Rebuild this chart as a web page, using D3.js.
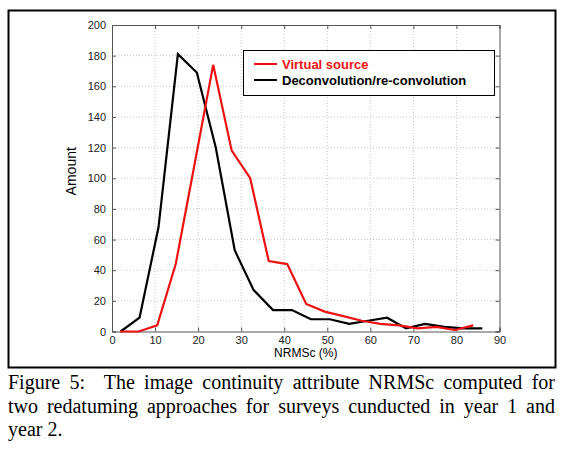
<!DOCTYPE html>
<html><head><meta charset="utf-8">
<script src="https://cdn.jsdelivr.net/npm/d3@7"></script>
<style>
html,body{margin:0;padding:0;background:#fff;}
svg{display:block;}
</style>
</head><body>
<svg id="c" width="562" height="454"></svg>
<script>
// ---- data ----
const xTicks = [0,10,20,30,40,50,60,70,80,90];
const yTicks = [0,20,40,60,80,100,120,140,160,180,200];
const seriesNames = ["Virtual source","Deconvolution/re-convolution"];
const seriesColors = ["#ee1111","#000000"];
const virtualX = [1.9,6.2,10.5,14.8,19.1,23.5,27.8,32.1,36.4,40.7,45.1,49.4,53.7,58.0,62.3,66.7,71.0,75.3,79.6,83.9];
const virtualY = [0,0,4,44,108,174,118,100,46,44,18,13,10,7,5,4,2,3,1,4];
const deconvX = [2.0,6.4,10.8,15.3,19.7,24.1,28.5,32.9,37.4,41.8,46.2,50.6,55.1,59.5,63.9,68.3,72.7,77.2,81.6,86.0];
const deconvY = [0,9,68,181,169,120,53,27,14,14,8,8,5,7,9,2,5,3,2,2];
const xLabel = "NRMSc (%)";
const yLabel = "Amount";
const captionLines = [
  "Figure 5:  The image continuity attribute NRMSc computed for",
  "two redatuming approaches for surveys cunducted in year 1 and",
  "year 2."
];

const svg = d3.select("#c");
const L = 112, R = 499.5, T = 25, B = 331.5;
const x = d3.scaleLinear().domain([0,90]).range([L,R]);
const y = d3.scaleLinear().domain([0,200]).range([B,T]);

// figure frame
svg.append("rect").attr("x",8.5).attr("y",10.5).attr("width",547).attr("height",357)
  .attr("fill","none").attr("stroke","#000").attr("stroke-width",2);

// grid
const g = svg.append("g");
g.selectAll(".gx").data(xTicks.slice(1,-1)).join("line")
  .attr("x1",d=>x(d)).attr("x2",d=>x(d)).attr("y1",T).attr("y2",B)
  .attr("stroke","#c8c8c8").attr("stroke-width",1).attr("stroke-dasharray","1,2");
g.selectAll(".gy").data(yTicks.slice(1,-1)).join("line")
  .attr("y1",d=>y(d)).attr("y2",d=>y(d)).attr("x1",L).attr("x2",R)
  .attr("stroke","#c8c8c8").attr("stroke-width",1).attr("stroke-dasharray","1,2");

// axes
const fnt = "'Liberation Sans', Arial, sans-serif";
svg.append("g").attr("transform",`translate(0,${B})`)
  .call(d3.axisBottom(x).tickValues(xTicks).tickSize(-4).tickPadding(5));
svg.append("g").attr("transform",`translate(${L},0)`)
  .call(d3.axisLeft(y).tickValues(yTicks).tickSize(-4).tickPadding(6));
svg.append("g").attr("transform",`translate(0,${T})`)
  .call(d3.axisTop(x).tickValues(xTicks).tickSize(-4).tickFormat(""));
svg.append("g").attr("transform",`translate(${R},0)`)
  .call(d3.axisRight(y).tickValues(yTicks).tickSize(-4).tickFormat(""));
svg.selectAll(".domain").attr("stroke","#555");
svg.selectAll(".tick line").attr("stroke","#555");
svg.selectAll(".tick text").attr("font-family",fnt).attr("font-size",11).attr("fill","#222");

// lines
const line = d3.line().x(d=>x(d[0])).y(d=>y(d[1]));
const vData = virtualX.map((v,i)=>[v,virtualY[i]]);
const dData = deconvX.map((v,i)=>[v,deconvY[i]]);
svg.append("path").datum(dData).attr("d",line).attr("fill","none")
  .attr("stroke",seriesColors[1]).attr("stroke-width",2.2).attr("stroke-linejoin","miter");
svg.append("path").datum(vData).attr("d",line).attr("fill","none")
  .attr("stroke",seriesColors[0]).attr("stroke-width",2.2).attr("stroke-linejoin","miter");

// axis labels
svg.append("text").attr("x",(L+R)/2).attr("y",357).attr("text-anchor","middle")
  .attr("font-family",fnt).attr("font-size",12).text(xLabel);
svg.append("text").attr("transform",`translate(76,${(T+B)/2-7}) rotate(-90)`)
  .attr("text-anchor","middle").attr("font-family",fnt).attr("font-size",14).text(yLabel);

// legend
const lg = svg.append("g");
lg.append("rect").attr("x",243.5).attr("y",50.5).attr("width",251).attr("height",45)
  .attr("fill","#fff").attr("stroke","#000").attr("stroke-width",1);
seriesNames.forEach((n,i)=>{
  const yy = 64 + i*16;
  lg.append("line").attr("x1",254).attr("x2",277).attr("y1",yy).attr("y2",yy)
    .attr("stroke",seriesColors[i]).attr("stroke-width",2);
  lg.append("text").attr("x",282).attr("y",yy+4.5).attr("font-family",fnt)
    .attr("font-weight","bold").attr("font-size",13).attr("fill",seriesColors[i]).text(n);
});

// caption, justified by word spacing
const cf = "'Liberation Serif', 'Times New Roman', serif";
const capL = 8, capW = 547;
captionLines.forEach((t,i)=>{
  const yy = 389 + i*23.5;
  const words = t.split(/ +/);
  const gT = svg.append("g");
  const nodes = words.map(w => gT.append("text").attr("y",yy).attr("font-family",cf)
    .attr("font-size",20).attr("fill","#000").text(w));
  const widths = nodes.map(n => n.node().getComputedTextLength());
  const total = d3.sum(widths);
  // weight of the space after word k (double space after "5:")
  const after = words.map((w,k)=> k===words.length-1 ? 0 : ((i===0 && k===1) ? 2 : 1));
  const units = d3.sum(after);
  const unit = (i<2) ? (capW - total)/units : 5;
  let cx = capL;
  nodes.forEach((n,k)=>{ n.attr("x",cx); cx += widths[k] + unit*after[k]; });
});
</script>
</body></html>
